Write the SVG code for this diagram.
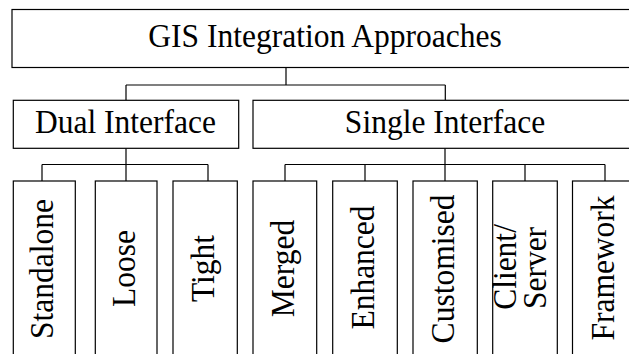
<svg xmlns="http://www.w3.org/2000/svg" width="629" height="354" viewBox="0 0 629 354">
<style>
.box{fill:#fff;stroke:#000;stroke-width:1.2}
.ln{fill:none;stroke:#000;stroke-width:1.2}
.t{font-family:"Liberation Serif","Times New Roman",serif;font-size:33px;fill:#000;text-anchor:middle}
</style>
<rect width="629" height="354" fill="#fff"/>
<g id="connectors" class="ln">
<path d="M286 67.5V85M126 85H445.3M126 85V100.3M445.3 85V100.3"/>
<path d="M126 148.3V164.5M42 164.5H208M42 164.5V181M126 164.5V181M208 164.5V181"/>
<path d="M445 148.3V164.5M285 164.5H605M285 164.5V181M365 164.5V181M445 164.5V181M525 164.5V181M605 164.5V181"/>
</g>
<g id="root"><rect class="box" x="12" y="9.5" width="626" height="58"/><text class="t" transform="translate(325 47) scale(0.955 1)">GIS Integration Approaches</text></g>
<g id="dual"><rect class="box" x="13.3" y="100.3" width="225.4" height="48"/><text class="t" transform="translate(125.5 132.5) scale(0.955 1)">Dual Interface</text></g>
<g id="single"><rect class="box" x="253" y="100.3" width="384" height="48"/><text class="t" transform="translate(445 132.5) scale(0.955 1)">Single Interface</text></g>
<g id="standalone"><rect class="box" x="13.3" y="181" width="62" height="176"/><text class="t" transform="translate(53.3 269) rotate(-90) scale(0.955 1)">Standalone</text></g>
<g id="loose"><rect class="box" x="95.3" y="181" width="61.7" height="176"/><text class="t" transform="translate(135 268.5) rotate(-90) scale(0.955 1)">Loose</text></g>
<g id="tight"><rect class="box" x="173" y="181" width="64.3" height="176"/><text class="t" transform="translate(214 268.5) rotate(-90) scale(0.955 1)">Tight</text></g>
<g id="merged"><rect class="box" x="253" y="181" width="63.7" height="176"/><text class="t" transform="translate(293.5 268.5) rotate(-90) scale(0.955 1)">Merged</text></g>
<g id="enhanced"><rect class="box" x="332.7" y="181" width="64.6" height="176"/><text class="t" transform="translate(373.5 267.5) rotate(-90) scale(0.955 1)">Enhanced</text></g>
<g id="customised"><rect class="box" x="413" y="181" width="64.3" height="176"/><text class="t" transform="translate(453.5 269) rotate(-90) scale(0.955 1)">Customised</text></g>
<g id="clientserver"><rect class="box" x="492.7" y="181" width="64.6" height="176"/><text class="t" transform="translate(516 267) rotate(-90) scale(0.955 1)">Client/</text><text class="t" transform="translate(545.5 268) rotate(-90) scale(0.955 1)">Server</text></g>
<g id="framework"><rect class="box" x="572.5" y="181" width="64.5" height="176"/><text class="t" transform="translate(613.5 268) rotate(-90) scale(0.955 1)">Framework</text></g>
</svg>
